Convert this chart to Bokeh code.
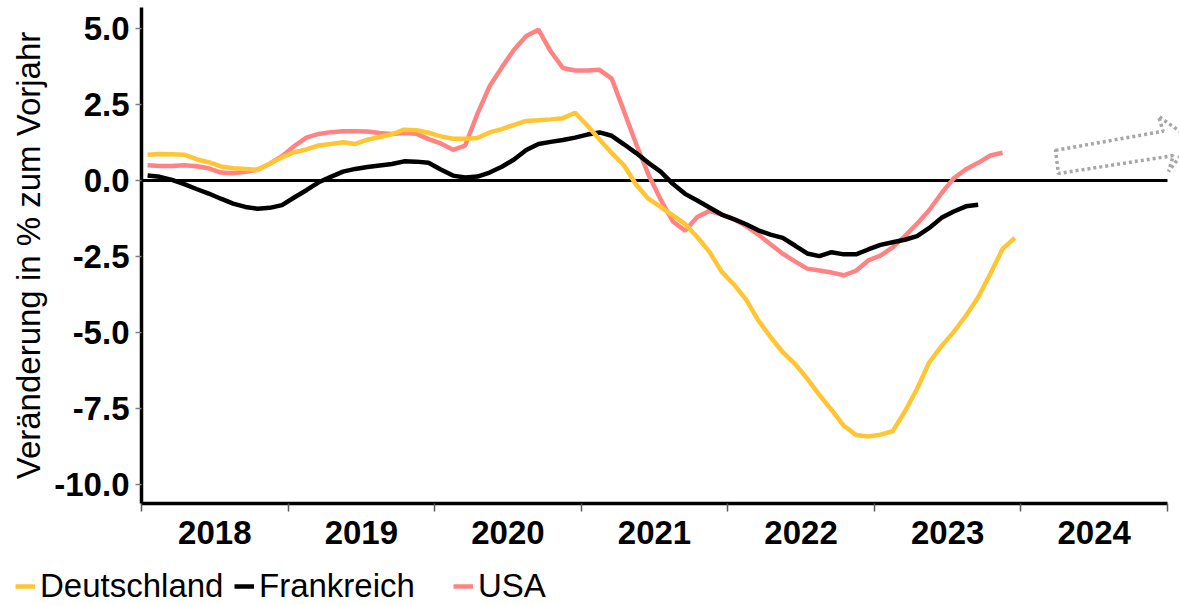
import pandas as pd
from bokeh.plotting import figure
from bokeh.layouts import column
from bokeh.models import (Range1d, FixedTicker, Legend, LegendItem,
                          CustomJSTickFormatter, NumeralTickFormatter)
from bokeh.embed import file_html
from bokeh.resources import INLINE

# ---------------- data (monthly, % change vs. previous year) ----------------
START = "2018-01"
YEAR_TICKS = [2018, 2019, 2020, 2021, 2022, 2023, 2024, 2025]
YEAR_LABELS = ["2018", "2019", "2020", "2021", "2022", "2023", "2024"]
Y_TICKS = [-10.0, -7.5, -5.0, -2.5, 0.0, 2.5, 5.0]
SERIES = ["Deutschland", "Frankreich", "USA"]

DEUTSCHLAND = [0.85, 0.87, 0.86, 0.85, 0.70, 0.60, 0.46, 0.40, 0.38, 0.35, 0.55, 0.76,
               0.93, 1.02, 1.15, 1.20, 1.26, 1.20, 1.34, 1.43, 1.52, 1.67, 1.65, 1.57,
               1.45, 1.37, 1.37, 1.40, 1.58, 1.69, 1.83, 1.96, 1.98, 2.01, 2.05, 2.23,
               1.81, 1.35, 0.90, 0.50, -0.14, -0.60, -0.87, -1.15, -1.43, -1.86, -2.35, -3.00,
               -3.42, -3.92, -4.60, -5.15, -5.65, -6.03, -6.52, -7.05, -7.55, -8.07, -8.37, -8.42,
               -8.36, -8.25, -7.60, -6.85, -5.98, -5.45, -4.98, -4.45, -3.84, -3.07, -2.25, -1.89]

FRANKREICH = [0.16, 0.12, 0.02, -0.12, -0.28, -0.43, -0.60, -0.76, -0.87, -0.93, -0.90, -0.81,
              -0.56, -0.32, -0.06, 0.12, 0.29, 0.38, 0.44, 0.49, 0.54, 0.63, 0.62, 0.58,
              0.36, 0.16, 0.10, 0.13, 0.26, 0.45, 0.69, 1.00, 1.20, 1.27, 1.33, 1.41,
              1.51, 1.58, 1.47, 1.19, 0.90, 0.58, 0.29, -0.11, -0.44, -0.66, -0.89, -1.12,
              -1.27, -1.44, -1.64, -1.78, -1.89, -2.14, -2.40, -2.49, -2.36, -2.43, -2.43, -2.27,
              -2.12, -2.03, -1.95, -1.83, -1.56, -1.23, -1.02, -0.85, -0.80]

USA = [0.50, 0.48, 0.48, 0.50, 0.47, 0.40, 0.26, 0.24, 0.29, 0.35, 0.55, 0.80,
       1.13, 1.41, 1.53, 1.59, 1.62, 1.62, 1.61, 1.56, 1.53, 1.56, 1.54, 1.36,
       1.22, 1.01, 1.15, 2.19, 3.10, 3.72, 4.30, 4.75, 4.96, 4.25, 3.70, 3.62,
       3.62, 3.64, 3.35, 2.28, 1.20, 0.20, -0.62, -1.35, -1.65, -1.20, -1.00, -1.12,
       -1.28, -1.50, -1.78, -2.10, -2.41, -2.66, -2.90, -2.96, -3.03, -3.12, -2.97, -2.63,
       -2.47, -2.20, -1.83, -1.42, -0.97, -0.42, 0.07, 0.37, 0.58, 0.82, 0.91]

# decorative outlook arrow (data units)
ARROW_X = [2024.236, 2024.97, 2024.939, 2025.17, 2025.007, 2025.04, 2024.256]
ARROW_Y = [0.99, 1.62, 2.11, 1.32, 0.30, 0.82, 0.23]


def month_x(n):
    d = pd.date_range(START, periods=n, freq="MS")
    return [t.year + (t.month - 0.5) / 12 for t in d]


FONT = "Liberation Sans"
YELLOW = "#ffc533"
PINK = "#ff8383"
COLORS = [YELLOW, "black", PINK]
VALUES = [DEUTSCHLAND, FRANKREICH, USA]
LW = 4.5

p = figure(width=1179, height=563, output_backend="svg", toolbar_location=None,
           x_range=Range1d(2018, 2025.082), y_range=Range1d(-10.626, 5.69),
           min_border_left=141, min_border_right=0, min_border_top=7, min_border_bottom=60)
p.frame_align = False
p.outline_line_color = None
p.xgrid.visible = False
p.ygrid.visible = False
p.background_fill_color = "white"

# zero line across the year span
p.line([YEAR_TICKS[0], YEAR_TICKS[-1]], [0, 0], line_color="black", line_width=3)

# draw order: USA, Frankreich, Deutschland (yellow on top)
for vals, col in zip(VALUES[::-1], COLORS[::-1]):
    p.line(month_x(len(vals)), vals, line_color=col, line_width=LW)

p.patch(ARROW_X, ARROW_Y, fill_alpha=0, line_color="#a6a6a6", line_width=3.5,
        line_dash="3 3")

# y axis
ya = p.yaxis[0]
ya.ticker = FixedTicker(ticks=Y_TICKS, minor_ticks=[])
ya.formatter = NumeralTickFormatter(format="0.0")
ya.axis_label = "Veränderung in % zum Vorjahr"
ya.axis_label_text_font = FONT
ya.axis_label_text_font_style = "normal"
ya.axis_label_text_font_size = "33px"
ya.axis_label_text_color = "black"
ya.axis_label_standoff = 4
ya.major_label_text_font = FONT
ya.major_label_text_font_style = "bold"
ya.major_label_text_font_size = "33px"
ya.major_label_text_color = "black"
ya.major_label_standoff = 6
ya.axis_line_width = 3.5
ya.axis_line_color = "black"
ya.major_tick_out = 6
ya.major_tick_in = 0
ya.major_tick_line_color = "#7f7f7f"
ya.major_tick_line_width = 1.5
ya.minor_tick_line_color = None

# x axis: labels mid-year, ticks at year boundaries
xa = p.xaxis[0]
xa.ticker = FixedTicker(ticks=[y + 0.5 for y in YEAR_TICKS[:-1]], minor_ticks=YEAR_TICKS)
xa.formatter = CustomJSTickFormatter(args=dict(labels=YEAR_LABELS, y0=YEAR_TICKS[0]),
                                     code="return labels[Math.floor(tick) - y0];")
xa.bounds = (YEAR_TICKS[0], YEAR_TICKS[-1])
xa.major_tick_line_color = None
xa.minor_tick_out = 8
xa.minor_tick_in = 0
xa.minor_tick_line_color = "#595959"
xa.minor_tick_line_width = 1.5
xa.axis_line_width = 3.5
xa.axis_line_color = "black"
xa.major_label_text_font = FONT
xa.major_label_text_font_style = "bold"
xa.major_label_text_font_size = "33px"
xa.major_label_text_color = "black"
xa.major_label_standoff = 9

# legend strip below the chart (proxy lines lie outside this strip's ranges)
lg = figure(width=1179, height=42, output_backend="svg", toolbar_location=None,
            x_range=Range1d(0, 1), y_range=Range1d(0, 1),
            x_axis_type=None, y_axis_type=None,
            min_border_left=0, min_border_right=0, min_border_top=0, min_border_bottom=0)
lg.frame_align = False
lg.outline_line_color = None
lg.xgrid.visible = False
lg.ygrid.visible = False
items = []
for name, vals, col in zip(SERIES, VALUES, COLORS):
    r = lg.line(month_x(len(vals)), vals, line_color=col, line_width=LW)
    items.append(LegendItem(label=name, renderers=[r]))
legend = Legend(items=items, orientation="horizontal", location=(15, 0),
                label_text_font=FONT, label_text_font_size="33px",
                label_text_color="black",
                glyph_width=20, glyph_height=20, label_standoff=5, spacing=9,
                label_width=185, padding=0, margin=0,
                background_fill_alpha=0, border_line_color=None)
lg.add_layout(legend, "center")

layout = column(p, lg, spacing=0)
open("out.html", "w").write(file_html(layout, INLINE))
